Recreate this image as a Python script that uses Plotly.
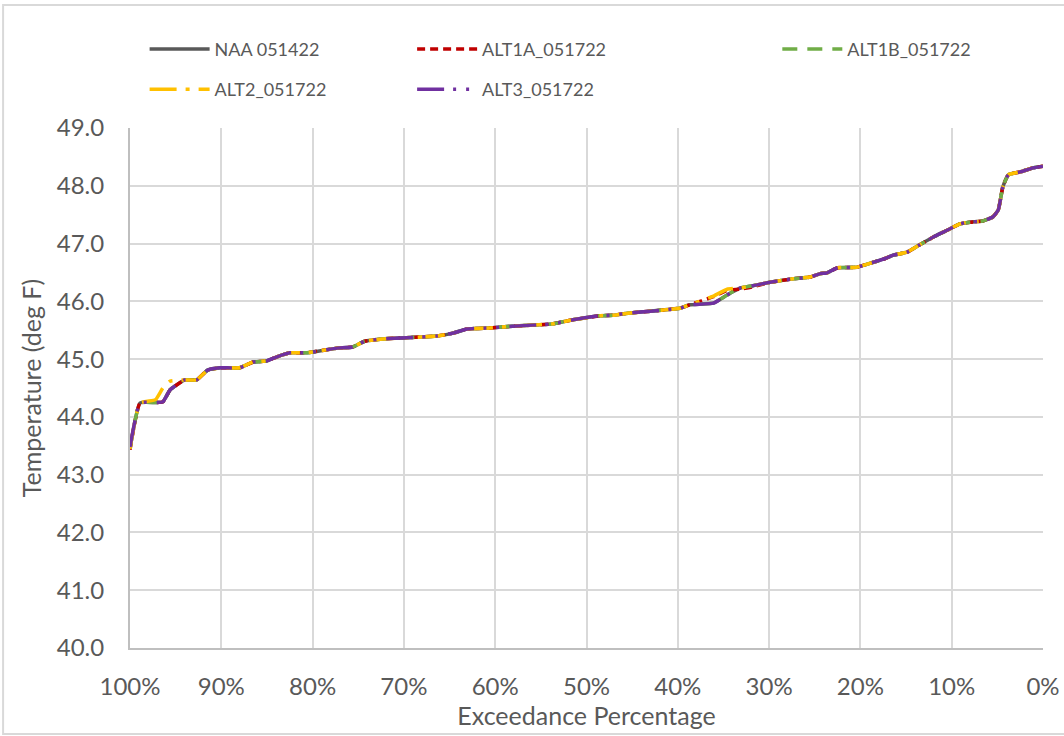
import plotly.graph_objects as go

# Exceedance percentage (x) shared by all series
pct = [100.0, 98.9, 97.2, 96.4, 95.6, 94.0, 92.7, 91.5, 90.1, 88.0, 86.5, 85.0, 83.9, 82.5,
       80.6, 77.3, 75.6, 74.3, 72.3, 69.7, 66.4, 64.6, 63.1, 60.6, 58.1, 53.7, 51.5,
       48.5, 47.1, 45.2, 43.0, 39.8, 38.7, 36.1, 34.6, 33.2, 31.8, 29.9, 27.4, 25.5,
       24.4, 23.7, 22.5, 20.4, 18.9, 17.5, 16.4, 14.9, 13.5, 11.8, 10.5, 9.1, 8.0,
       6.6, 5.5, 4.9, 4.4, 3.8, 2.5, 1.1, 0.0]

naa_051422 = [43.45, 44.24, 44.25, 44.26, 44.47, 44.64, 44.64, 44.81, 44.85, 44.85, 44.95, 44.97, 45.04, 45.11,
              45.11, 45.19, 45.21, 45.31, 45.35, 45.37, 45.40, 45.45, 45.52, 45.54, 45.57, 45.61, 45.68,
              45.75, 45.76, 45.80, 45.83, 45.88, 45.94, 45.97, 46.11, 46.23, 46.27, 46.33, 46.39, 46.42,
              46.48, 46.49, 46.58, 46.59, 46.66, 46.73, 46.80, 46.85, 46.98, 47.13, 47.23, 47.34, 47.37,
              47.39, 47.46, 47.58, 47.98, 48.19, 48.24, 48.31, 48.34]

alt1a_051722 = [43.43, 44.24, 44.25, 44.26, 44.47, 44.64, 44.64, 44.81, 44.85, 44.85, 44.95, 44.97, 45.04, 45.11,
                45.11, 45.19, 45.21, 45.31, 45.35, 45.37, 45.40, 45.45, 45.52, 45.54, 45.57, 45.61, 45.68,
                45.75, 45.76, 45.80, 45.83, 45.88, 45.94, 46.08, 46.19, 46.21, 46.25, 46.33, 46.39, 46.42,
                46.48, 46.49, 46.58, 46.59, 46.66, 46.73, 46.80, 46.85, 46.98, 47.13, 47.23, 47.34, 47.37,
                47.39, 47.46, 47.58, 47.98, 48.19, 48.24, 48.31, 48.34]

alt1b_051722 = [43.45, 44.24, 44.25, 44.26, 44.47, 44.64, 44.64, 44.81, 44.85, 44.85, 44.95, 44.97, 45.04, 45.11,
                45.11, 45.19, 45.21, 45.31, 45.35, 45.37, 45.40, 45.45, 45.52, 45.54, 45.57, 45.61, 45.68,
                45.75, 45.76, 45.80, 45.83, 45.88, 45.94, 45.97, 46.11, 46.23, 46.27, 46.33, 46.39, 46.42,
                46.48, 46.49, 46.58, 46.59, 46.66, 46.73, 46.80, 46.85, 46.98, 47.13, 47.23, 47.34, 47.37,
                47.39, 47.46, 47.58, 47.98, 48.19, 48.24, 48.31, 48.34]

alt2_051722 = [43.45, 44.24, 44.30, 44.50, 44.62, 44.64, 44.64, 44.81, 44.85, 44.85, 44.95, 44.97, 45.04, 45.11,
               45.11, 45.19, 45.21, 45.31, 45.35, 45.37, 45.40, 45.45, 45.52, 45.54, 45.57, 45.61, 45.68,
               45.75, 45.76, 45.80, 45.83, 45.88, 45.94, 46.09, 46.21, 46.23, 46.27, 46.33, 46.39, 46.42,
               46.48, 46.49, 46.58, 46.59, 46.66, 46.73, 46.80, 46.85, 46.98, 47.13, 47.23, 47.34, 47.37,
               47.39, 47.46, 47.58, 47.98, 48.19, 48.24, 48.31, 48.34]

alt3_051722 = [43.48, 44.24, 44.25, 44.26, 44.47, 44.64, 44.64, 44.81, 44.85, 44.85, 44.95, 44.97, 45.04, 45.11,
               45.11, 45.19, 45.21, 45.31, 45.35, 45.37, 45.40, 45.45, 45.52, 45.54, 45.57, 45.61, 45.68,
               45.75, 45.76, 45.80, 45.83, 45.88, 45.94, 45.97, 46.11, 46.23, 46.27, 46.33, 46.39, 46.42,
               46.48, 46.49, 46.58, 46.59, 46.66, 46.73, 46.80, 46.85, 46.98, 47.13, 47.23, 47.34, 47.37,
               47.39, 47.46, 47.58, 47.98, 48.19, 48.24, 48.31, 48.34]

series_names = ["NAA 051422", "ALT1A_051722", "ALT1B_051722", "ALT2_051722", "ALT3_051722"]
series_values = [naa_051422, alt1a_051722, alt1b_051722, alt2_051722, alt3_051722]
series_colors = ["#595959", "#C00000", "#70AD47", "#FFC000", "#7030A0"]
series_dash = ["solid", "8px,5px", "15px,10px", "27px,9px,4px,9px", "27px,9px,3px,10px,3px,10px"]
series_legend = ["legend", "legend2", "legend3", "legend", "legend2"]

x_ticks = [100, 90, 80, 70, 60, 50, 40, 30, 20, 10, 0]
x_ticktext = [f"{v}%" for v in x_ticks]
y_ticks = [40, 41, 42, 43, 44, 45, 46, 47, 48, 49]

FONT = "Lato"
GRAY = "#595959"

fig = go.Figure()
for name, vals, col, dash, lg in zip(series_names, series_values, series_colors, series_dash, series_legend):
    fig.add_trace(go.Scatter(
        x=pct, y=vals, mode="lines", name=name, legend=lg, legendgroup=name,
        line=dict(color=col, width=3.5, dash=dash, shape="spline", smoothing=0.4),
    ))

leg_common = dict(orientation="v", yanchor="top", xanchor="left", y=1.187,
                  font=dict(size=18, color=GRAY), itemwidth=60, tracegroupgap=14,
                  bgcolor="rgba(0,0,0,0)")

fig.update_layout(
    width=1064, height=736,
    paper_bgcolor="white", plot_bgcolor="white",
    margin=dict(l=130, r=21, t=128, b=88, autoexpand=False),
    font=dict(family=FONT, color=GRAY, size=20),
    legend=dict(x=0.016, **leg_common),
    legend2=dict(x=0.309, **leg_common),
    legend3=dict(x=0.709, **leg_common),
    showlegend=True,
)
fig.update_xaxes(
    range=[100, 0], tickvals=x_ticks, ticktext=x_ticktext,
    showgrid=True, gridcolor="#D9D9D9", gridwidth=2,
    showline=True, linecolor="#BFBFBF", linewidth=2,
    ticks="", ticklabelstandoff=16, zeroline=False, automargin=False,
    tickfont=dict(size=24, color=GRAY),
    title=dict(text="Exceedance Percentage", font=dict(size=25, color=GRAY), standoff=6),
)
fig.update_yaxes(
    range=[40, 49], tickvals=y_ticks, tickformat=".1f",
    showgrid=True, gridcolor="#D9D9D9", gridwidth=2,
    showline=True, linecolor="#BFBFBF", linewidth=2,
    ticks="", ticklabelstandoff=19, zeroline=False, automargin=False,
    tickfont=dict(size=24, color=GRAY),
    title=dict(text="Temperature (deg F)", font=dict(size=25, color=GRAY), standoff=8),
)
# chart-area frame
fig.add_shape(type="rect", xref="paper", yref="paper",
              x0=-0.139, x1=1.03, y0=-0.1654, y1=1.2365,
              line=dict(color="#D9D9D9", width=2), fillcolor="rgba(0,0,0,0)", layer="below")

fig.write_html("out.html", config={"displayModeBar": False},
               post_script="document.body.style.margin='0px';")
